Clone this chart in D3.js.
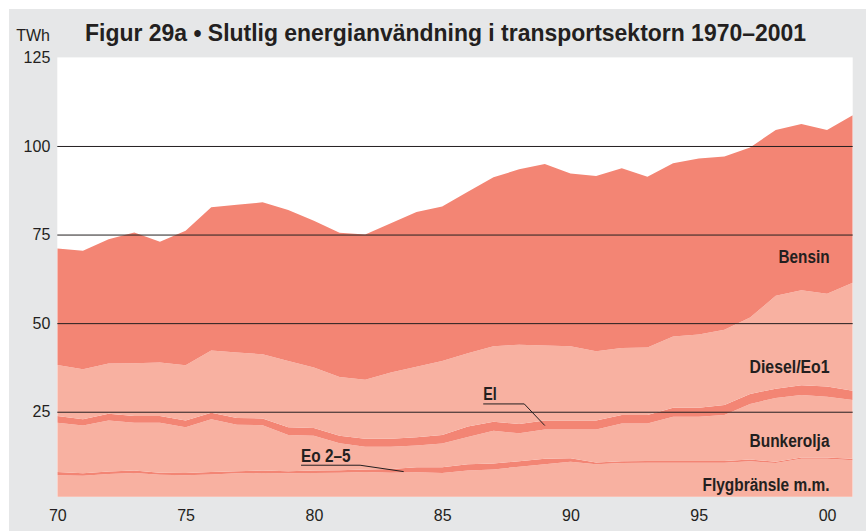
<!DOCTYPE html>
<html>
<head>
<meta charset="utf-8">
<script src="https://cdn.jsdelivr.net/npm/d3@7"></script>
<style>
  html, body { margin: 0; padding: 0; background: #ffffff; }
  svg { display: block; }
  text { font-family: "Liberation Sans", Arial, Helvetica, sans-serif; fill: #231f20; }
  .bold { font-family: "Liberation Sans Narrow", "Arial Narrow", "Liberation Sans", Arial, sans-serif; font-weight: bold; }
</style>
</head>
<body>
<svg id="chart" width="866" height="531"></svg>
<script>
// Final energy use in the Swedish transport sector, TWh, 1970–2001
const years = d3.range(1970, 2002);

const flygbransle = [7.1, 6.9, 7.4, 7.7, 7.2, 7.1, 7.3, 7.6, 7.7, 7.6, 7.7, 7.8, 8.0, 7.8, 7.9, 7.7,
                     8.4, 8.7, 9.5, 10.2, 10.9, 10.2, 10.5, 10.6, 10.6, 10.6, 10.6, 11.0, 10.5, 11.7, 11.7, 11.3];
const eo25 = [0.9, 0.7, 0.7, 0.7, 0.6, 0.6, 0.7, 0.6, 0.7, 0.6, 0.7, 0.7, 0.7, 1.0, 1.4, 1.6,
              1.8, 1.7, 1.5, 1.5, 1.0, 0.5, 0.5, 0.5, 0.5, 0.5, 0.5, 0.5, 0.4, 0.4, 0.4, 0.4];
const bunkerolja = [13.9, 13.5, 14.4, 13.5, 14.1, 12.9, 14.9, 13.1, 12.8, 10.2, 9.8, 7.6, 6.4, 6.3, 6.2, 6.7,
                    7.7, 9.2, 7.9, 8.3, 8.1, 9.3, 10.7, 10.6, 12.5, 12.5, 13.0, 15.7, 18.0, 17.6, 17.1, 16.6];
const el = [1.9, 1.8, 1.9, 1.9, 1.9, 1.9, 1.8, 1.9, 1.9, 2.2, 2.2, 2.1, 2.3, 2.3, 2.3, 2.4,
            2.9, 2.6, 2.6, 2.5, 2.5, 2.5, 2.4, 2.4, 2.5, 2.5, 2.8, 2.8, 2.6, 2.8, 2.9, 2.6];
const dieselEo1 = [14.4, 14.1, 14.2, 14.9, 15.1, 15.6, 17.6, 18.5, 18.1, 18.7, 17.1, 16.6, 16.6, 18.7, 19.9, 20.9,
                   20.7, 21.3, 22.4, 21.2, 21.0, 19.6, 18.9, 19.0, 20.1, 20.7, 21.2, 21.6, 26.2, 26.8, 26.2, 30.5];
const bensin = [32.9, 33.4, 35.1, 36.9, 34.1, 38.0, 40.4, 41.7, 42.9, 42.6, 41.4, 40.7, 41.0, 42.1, 43.7, 43.6,
                45.6, 47.7, 49.5, 51.2, 48.7, 49.4, 50.7, 48.2, 48.9, 49.7, 48.9, 48.0, 46.8, 46.9, 46.2, 47.3];

const seriesKeys = ["Flygbränsle m.m.", "Eo 2–5", "Bunkerolja", "El", "Diesel/Eo1", "Bensin"];
const seriesValues = [flygbransle, eo25, bunkerolja, el, dieselEo1, bensin];

const yTicks = [25, 50, 75, 100, 125];
const xTickYears = [1970, 1975, 1980, 1985, 1990, 1995, 2000];
const xTickLabels = ["70", "75", "80", "85", "90", "95", "00"];

const titleText = "Figur 29a • Slutlig energianvändning i transportsektorn 1970–2001";
const unitText = "TWh";

const LIGHT = "#f8b1a1";
const DARK = "#f38574";
const seriesColors = [LIGHT, DARK, LIGHT, DARK, LIGHT, DARK];

// rows for d3.stack
const table = years.map((yr, i) => {
  const row = { year: yr };
  seriesKeys.forEach((k, j) => { row[k] = seriesValues[j][i]; });
  return row;
});

const svg = d3.select("#chart");
const W = 866, H = 531;

const plot = { left: 57.3, right: 852.7, top: 57.4, bottom: 496.7 };

const x = d3.scaleLinear().domain([1970, 2001]).range([plot.left, plot.right]);
const y = d3.scaleLinear().domain([0, 125]).range([500.3, plot.top]);

// grey panel
svg.append("rect").attr("x", 9).attr("y", 9).attr("width", W - 9).attr("height", H - 9).attr("fill", "#e6e7e8");

// white plotting field
svg.append("rect")
  .attr("x", plot.left).attr("y", plot.top)
  .attr("width", plot.right - plot.left).attr("height", plot.bottom - plot.top)
  .attr("fill", "#ffffff");

svg.append("clipPath").attr("id", "plotClip")
  .append("rect")
  .attr("x", plot.left).attr("y", plot.top)
  .attr("width", plot.right - plot.left).attr("height", plot.bottom - plot.top);

const stacked = d3.stack().keys(seriesKeys)(table);

const area = d3.area()
  .x(d => x(d.data.year))
  .y0(d => y(d[0]))
  .y1(d => y(d[1]));

svg.append("g").attr("clip-path", "url(#plotClip)")
  .selectAll("path")
  .data(stacked)
  .join("path")
  .attr("d", area)
  .attr("fill", (d, i) => seriesColors[i]);

// horizontal grid lines over the areas
const yAxis = d3.axisLeft(y).tickValues(yTicks).tickSize(-(plot.right - plot.left)).tickPadding(7);
const gy = svg.append("g").attr("transform", `translate(${plot.left},0)`).call(yAxis);
gy.select(".domain").remove();
gy.selectAll(".tick line")
  .attr("stroke", "#231f20").attr("stroke-width", 1)
  .attr("opacity", d => d === 125 ? 0 : 1);
gy.selectAll(".tick text")
  .attr("font-size", 16).attr("fill", "#231f20")
  .attr("font-family", "'Liberation Sans', Arial, sans-serif");

// year axis
const xAxis = d3.axisBottom(x).tickValues(xTickYears)
  .tickFormat((d, i) => xTickLabels[i]).tickSize(0).tickPadding(13);
const gx = svg.append("g").attr("transform", `translate(0,${plot.bottom})`).call(xAxis);
gx.select(".domain").remove();
gx.selectAll(".tick text")
  .attr("font-size", 16).attr("fill", "#231f20")
  .attr("font-family", "'Liberation Sans', Arial, sans-serif");

// title and unit
svg.append("text").attr("class", "bold")
  .attr("x", 85).attr("y", 41)
  .attr("font-size", 24)
  .attr("textLength", 721).attr("lengthAdjust", "spacingAndGlyphs")
  .text(titleText);

svg.append("text")
  .attr("x", 50).attr("y", 41).attr("text-anchor", "end")
  .attr("font-size", 16)
  .text(unitText);

// series labels, right aligned
const rightLabels = [
  { text: "Bensin", year: 2000, value: 67, w: 51 },
  { text: "Diesel/Eo1", year: 2000, value: 36, w: 80 },
  { text: "Bunkerolja", year: 2000, value: 15, w: 80 },
  { text: "Flygbränsle m.m.", year: 2000, value: 2.7, w: 127 }
];
svg.selectAll("text.serieslabel")
  .data(rightLabels)
  .join("text")
  .attr("class", "serieslabel bold")
  .attr("x", d => x(d.year) + 2.5)
  .attr("y", d => y(d.value))
  .attr("text-anchor", "end")
  .attr("font-size", 18)
  .attr("textLength", d => d.w).attr("lengthAdjust", "spacingAndGlyphs")
  .text(d => d.text);

// labels with leader lines for the two thin bands
const callouts = [
  { text: "El", w: 13.5, tx: 1986.6, tv: 28.2, lx2: 1988.2, py: 27.2, pyr: 1989.0, pv: 21.1 },
  { text: "Eo 2–5", w: 49.5, tx: 1979.5, tv: 10.7, lx2: 1981.8, py: 9.9, pyr: 1983.5, pv: 8.1 }
];
const cg = svg.append("g");
callouts.forEach(c => {
  cg.append("text").attr("class", "bold")
    .attr("x", x(c.tx)).attr("y", y(c.tv))
    .attr("font-size", 18)
    .attr("textLength", c.w).attr("lengthAdjust", "spacingAndGlyphs")
    .text(c.text);
  cg.append("path")
    .attr("d", d3.line()([[x(c.tx), y(c.py)], [x(c.lx2), y(c.py)], [x(c.pyr), y(c.pv)]]))
    .attr("fill", "none").attr("stroke", "#231f20").attr("stroke-width", 1);
});
</script>
</body>
</html>
